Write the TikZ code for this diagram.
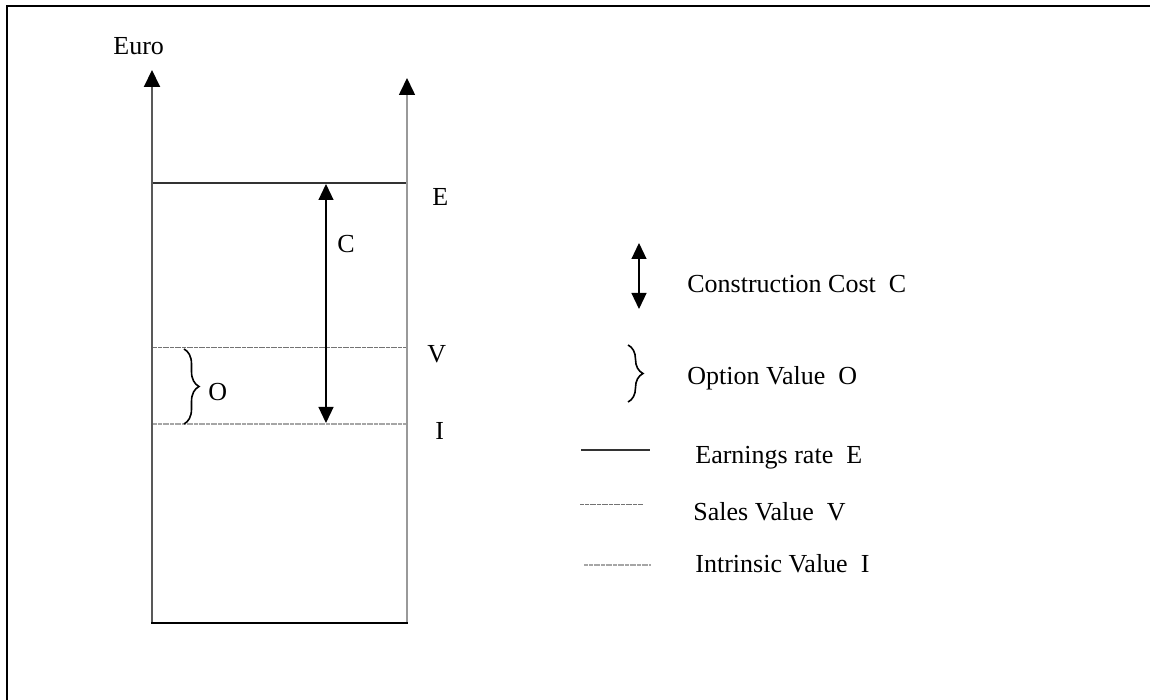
\documentclass[tikz,border=0pt]{standalone}
\usepackage{fontspec}
\setmainfont{Liberation Serif}
\usetikzlibrary{arrows.meta,decorations.pathreplacing}
\begin{document}
\begin{tikzpicture}[x=0.5pt,y=-0.5pt,
  lbl/.style={inner sep=0pt,anchor=base west,font=\fontsize{13}{15}\selectfont},
  axistip/.style={-{Triangle[width=8pt,length=8.5pt,color=black]}},
  ctip/.style={{Triangle[width=7.5pt,length=8pt]}-{Triangle[width=7.5pt,length=8pt]}},
  eline/.style={draw=black!80,line width=0.8pt},
  vline/.style={draw=black!55,line width=0.5pt,dash pattern=on 1pt off 0.2pt},
  iline/.style={draw=black!35,line width=0.6pt,dash pattern=on 1pt off 0.2pt},
  bracestyle/.style={decorate,decoration={brace,amplitude=7.5pt},line width=0.8pt}]
\useasboundingbox (0,0) rectangle (1153,700);
% frame (cropped)
\draw[line width=1.1pt] (7,700) -- (7,6) -- (1150,6);
% axes
\coordinate (lb) at (152,623);
\coordinate (lt) at (152,70);
\coordinate (rb) at (407,623);
\coordinate (rt) at (407,78);
\draw[axistip,draw=black!65,line width=1pt] (lb) -- (lt);
\draw[axistip,draw=black!40,line width=0.8pt] (rb) -- (rt);
\draw[line width=1pt] (151,623) -- (408,623);
\node[lbl] (euro) at (113,55) {Euro};
% level lines
\coordinate (e1) at (153,183); \coordinate (e2) at (406,183);
\coordinate (v1) at (153,348); \coordinate (v2) at (406,348);
\coordinate (i1) at (153,424); \coordinate (i2) at (406,424);
\draw[eline] (e1) -- (e2);
\draw[vline] (v1) -- (v2);
\draw[iline] (i1) -- (i2);
\node[lbl] (E) at (432,206) {E};
\node[lbl] (V) at (427,363) {V};
\node[lbl] (I) at (435,440) {I};
% construction cost arrow
\coordinate (ct) at (326,184);
\coordinate (cb) at (326,423);
\draw[ctip,line width=0.6pt] (cb) -- (ct);
\node[lbl] (C) at (337,253) {C};
% option brace
\coordinate (bt) at (184,349);
\coordinate (bb) at (184,424);
\draw[bracestyle] (bt) -- (bb);
\node[lbl] (O) at (208,401) {O};
% legend
\coordinate (la1) at (639,243);
\coordinate (la2) at (639,309);
\draw[ctip,line width=0.6pt] (la2) -- (la1);
\node[lbl] (lc) at (687,293) {Construction Cost\ \ C};
\coordinate (lbt) at (628,345);
\coordinate (lbb) at (628,402);
\draw[bracestyle] (lbt) -- (lbb);
\node[lbl] (lo) at (687,385) {Option Value\ \ O};
\coordinate (le1) at (581,450); \coordinate (le2) at (650,450);
\draw[eline] (le1) -- (le2);
\node[lbl] (leT) at (695,464) {Earnings rate\ \ E};
\coordinate (lv1) at (580,505); \coordinate (lv2) at (643,505);
\draw[vline] (lv1) -- (lv2);
\node[lbl] (lvT) at (693,521) {Sales Value\ \ V};
\coordinate (li1) at (584,565); \coordinate (li2) at (651,565);
\draw[iline] (li1) -- (li2);
\node[lbl] (liT) at (695,573) {Intrinsic Value\ \ I};
\end{tikzpicture}
\end{document}
